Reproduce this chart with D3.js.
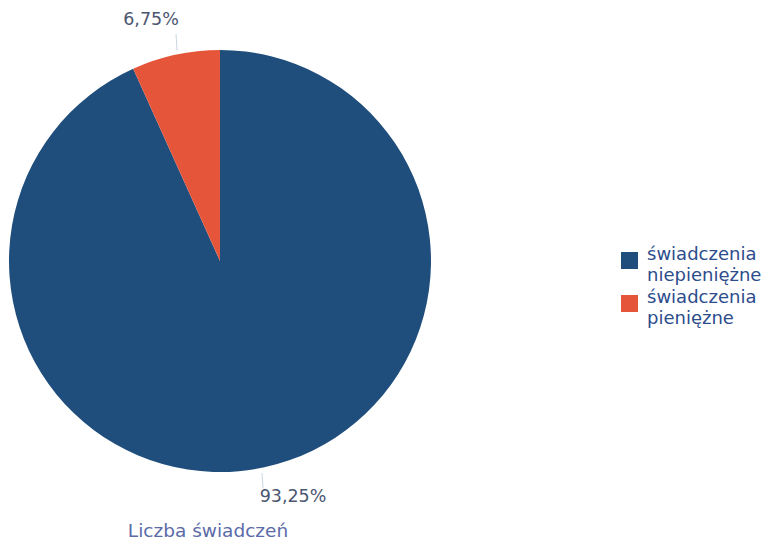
<!DOCTYPE html>
<html><head><meta charset="utf-8">
<script src="https://cdn.jsdelivr.net/npm/d3@7"></script>
<style>body{margin:0;background:#fff}svg{display:block}</style>
</head><body>
<svg id="c" width="769" height="546"></svg>
<script>
const categories = ["świadczenia niepieniężne", "świadczenia pieniężne"];
const legendLines = [["świadczenia", "niepieniężne"], ["świadczenia", "pieniężne"]];
const values = [93.25, 6.75];
const valueLabels = ["93,25%", "6,75%"];
const colors = ["#1f4e7c", "#e5553a"];
const title = "Liczba świadczeń";

const svg = d3.select("#c");
const font = "'DejaVu Sans', Verdana, sans-serif";
const cx = 220, cy = 261, r = 211;
const pie = d3.pie().sort(null).value(d => d);
const arcs = pie(values);
const arc = d3.arc().innerRadius(0).outerRadius(r);
const g = svg.append("g").attr("transform", `translate(${cx},${cy})`);
g.selectAll("path").data(arcs).join("path")
  .attr("d", arc).attr("fill", (d, i) => colors[i]);

// labels
const labelPos = [[293, 497], [151, 20]];
const lineEnds = [[[262, 473], [263, 488]], [[177, 50], [176, 34]]];
arcs.forEach((d, i) => {
  svg.append("line")
    .attr("x1", lineEnds[i][0][0]).attr("y1", lineEnds[i][0][1])
    .attr("x2", lineEnds[i][1][0]).attr("y2", lineEnds[i][1][1])
    .attr("stroke", "#c9d6e0").attr("stroke-width", 1);
  svg.append("text").attr("x", labelPos[i][0]).attr("y", labelPos[i][1])
    .attr("text-anchor", "middle").attr("dominant-baseline", "middle")
    .attr("font-family", font).attr("font-size", 17.5).attr("fill", "#4b5670")
    .text(valueLabels[i]);
});

svg.append("text").attr("x", 208).attr("y", 537)
  .attr("text-anchor", "middle").attr("font-family", font).attr("font-size", 18.5)
  .attr("fill", "#5b6ba8").text(title);

const leg = svg.append("g");
legendLines.forEach((lines, i) => {
  const y0 = 252 + i * 43;
  leg.append("rect").attr("x", 621).attr("y", y0).attr("width", 17).attr("height", 17)
    .attr("fill", colors[i]);
  lines.forEach((t, j) => {
    leg.append("text").attr("x", 647).attr("y", y0 + 8 + j * 21)
      .attr("font-family", font).attr("font-size", 18).attr("fill", "#2d4c8c")
      .text(t);
  });
});
</script>
</body></html>
